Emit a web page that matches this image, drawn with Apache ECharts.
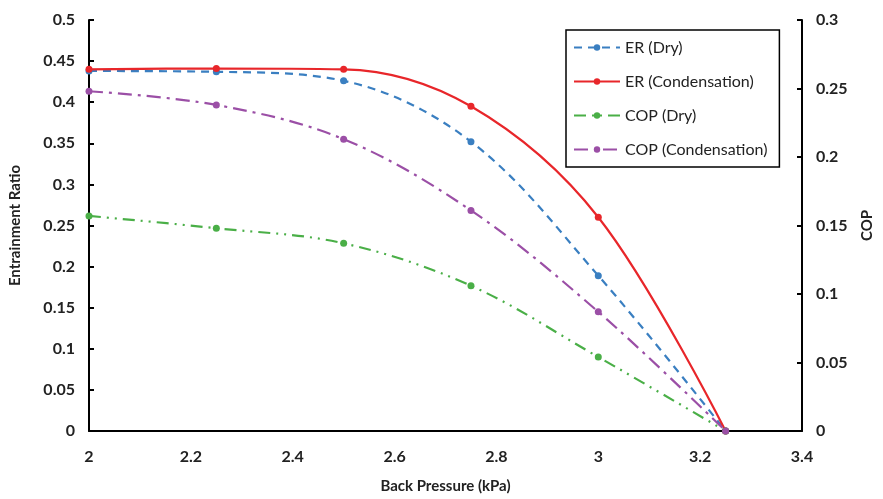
<!DOCTYPE html>
<html><head><meta charset="utf-8">
<script src="https://cdn.jsdelivr.net/npm/echarts@6/dist/echarts.min.js"></script>
<style>html,body{margin:0;padding:0;background:#fff}#c{width:883px;height:499px}</style>
</head><body><div id="c"></div>
<script>
var backPressure = [2, 2.25, 2.5, 2.75, 3, 3.25];
var erDry = [0.438, 0.437, 0.426, 0.352, 0.189, 0];
var erCond = [0.440, 0.441, 0.440, 0.395, 0.260, 0];
var copDry = [0.157, 0.148, 0.137, 0.106, 0.054, 0];
var copCond = [0.248, 0.238, 0.213, 0.161, 0.087, 0];
var xTicks = [2, 2.2, 2.4, 2.6, 2.8, 3, 3.2, 3.4];

function pairs(v){ return backPressure.map(function(x,i){ return [x, v[i]]; }); }
var FONT = 'Lato, "Open Sans", sans-serif';
var chart = echarts.init(document.getElementById('c'));
function ser(name, data, color, type, yIdx){
  return {name:name, type:'line', yAxisIndex:yIdx, data:pairs(data), smooth:0.35,
    symbol:'circle', symbolSize:7, showSymbol:true,
    itemStyle:{color:color}, lineStyle:{color:color, width:2.2, type:type}};
}
chart.setOption({
  animation:false,
  textStyle:{fontFamily:FONT},
  grid:{left:88, right:78, top:20, bottom:63},
  legend:{orient:'vertical', left:566, top:30, width:226,
    padding:[9,12,9,7], itemGap:17, itemWidth:46, itemHeight:8,
    borderColor:'#000', borderWidth:1.5,
    textStyle:{fontFamily:FONT, fontSize:16, color:'#222', lineHeight:17},
    data:['ER (Dry)','ER (Condensation)','COP (Dry)','COP (Condensation)']},
  xAxis:{type:'value', min:2, max:3.4, interval:0.2,
    name:'Back Pressure (kPa)', nameLocation:'middle', nameGap:48,
    nameTextStyle:{fontFamily:FONT, fontSize:15, fontWeight:'bold', color:'#222'},
    axisLine:{lineStyle:{color:'#000', width:2}}, axisTick:{show:false},
    splitLine:{show:false},
    axisLabel:{fontFamily:FONT, fontSize:16, fontWeight:'bold', color:'#222', margin:18,
      formatter:function(v){ var s = xTicks.filter(function(t){return Math.abs(t-v)<1e-6;}); return s.length? String(+v.toFixed(1)) : ''; }}},
  yAxis:[
    {type:'value', min:0, max:0.5, interval:0.05,
     name:'Entrainment Ratio', nameLocation:'middle', nameGap:66, nameRotate:90,
     nameTextStyle:{fontFamily:FONT, fontSize:15, fontWeight:'bold', color:'#222'},
     axisLine:{show:true, lineStyle:{color:'#000', width:2}},
     axisTick:{show:true, inside:true, length:5, lineStyle:{color:'#000', width:2}},
     splitLine:{show:false},
     axisLabel:{fontFamily:FONT, fontSize:16, fontWeight:'bold', color:'#222', margin:14,
       formatter:function(v){ return String(+v.toFixed(2)); }}},
    {type:'value', min:0, max:0.3, interval:0.05, position:'right',
     name:'COP', nameLocation:'middle', nameGap:58, nameRotate:90,
     nameTextStyle:{fontFamily:FONT, fontSize:15, fontWeight:'bold', color:'#222'},
     axisLine:{show:true, lineStyle:{color:'#000', width:2}},
     axisTick:{show:true, inside:true, length:5, lineStyle:{color:'#000', width:2}},
     splitLine:{show:false},
     axisLabel:{fontFamily:FONT, fontSize:16, fontWeight:'bold', color:'#222', margin:14,
       formatter:function(v){ return String(+v.toFixed(2)); }}}
  ],
  series:[
    ser('ER (Dry)', erDry, '#3a7fc1', [8,6], 0),
    ser('ER (Condensation)', erCond, '#e8262a', 'solid', 0),
    ser('COP (Dry)', copDry, '#4aaf47', [12,6,2,6,2,6], 1),
    ser('COP (Condensation)', copCond, '#9b4fa6', [14,6,3,6], 1)
  ]
});
</script></body></html>
